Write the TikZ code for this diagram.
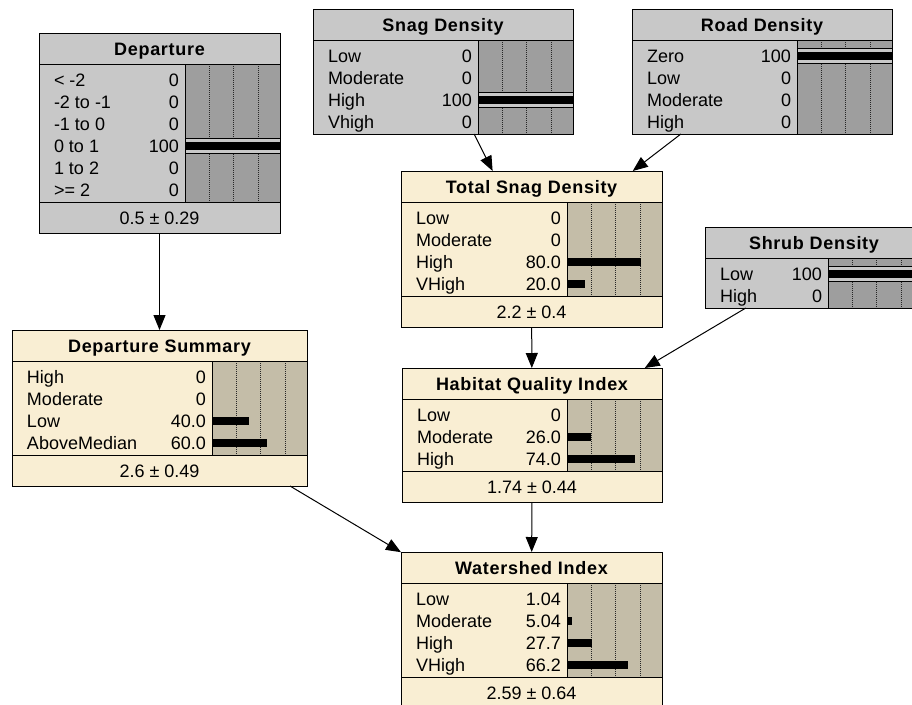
\documentclass[tikz,border=0pt]{standalone}
\usepackage{fontspec}
\setmainfont{Liberation Sans}
\newfontfamily\ttlfont[LetterSpace=4]{Liberation Sans}
\usetikzlibrary{arrows.meta}
\definecolor{gbg}{RGB}{200,200,200}
\definecolor{gbar}{RGB}{158,158,158}
\definecolor{bbg}{RGB}{249,238,211}
\definecolor{bbar}{RGB}{196,189,168}
\tikzset{
  txt/.style={inner sep=0pt, outer sep=0pt, font=\fontsize{18}{20}\selectfont},
  ttl/.style={inner sep=0pt, outer sep=0pt, font=\ttlfont\bfseries\fontsize{18}{20}\selectfont},
  dotline/.style={draw=black!85, line width=0.6pt, dash pattern=on 1pt off 1pt},
  sep/.style={draw=black, line width=0.8pt},
  edge/.style={draw=black, line width=1pt, -{Triangle[length=15pt,width=12pt]}}
}
% #1 name #2 x #3 y #4 width #5 nrows #6 kind (g/b) #7 title #8 footer #9 rows
\newcommand\netbox[9]{%
 \begin{scope}[shift={(#2,#3)}]
  \pgfmathsetmacro\bb{31+#5*22+6}
  \def\tmpfoot{#8}%
  \ifx\tmpfoot\empty \pgfmathsetmacro\bh{\bb}\else \pgfmathsetmacro\bh{\bb+31}\fi
  \pgfmathsetmacro\bx{#4-95}
  \node[draw=black, fill=#6bg, minimum width=#4pt, minimum height=\bh pt,
        anchor=north west, inner sep=0pt, outer sep=0pt, line width=0.8pt] (#1) at (0,0) {};
  \fill[#6bar] (\bx,31) rectangle (#4,\bb);
  \foreach \f in {24,48.5,73} {\draw[dotline] (\bx+\f,31) -- (\bx+\f,\bb);}
  \foreach \lab/\val/\pct/\ev [count=\i from 0] in {#9} {
    \pgfmathsetmacro\yc{31+16+22*\i}
    \pgfmathsetmacro\yb{31+22+22*\i}
    \ifnum\ev=1
      \filldraw[fill=#6bg, draw=black, line width=0.6pt] (\bx,\yc-7.5) rectangle (#4,\yc+7.5);
      \fill[black] (\bx+0.5,\yc-4.2) rectangle (#4-0.5,\yc+4.2);
    \else
      \fill[black] (\bx,\yc-4.2) rectangle (\bx+0.92*\pct,\yc+4.2);
    \fi
    \node[txt, anchor=base west] at (15,\yb) {\lab};
    \node[txt, anchor=base east] at (\bx-6,\yb) {\val};
  }
  \draw[sep] (0,31) -- (#4,31);
  \draw[sep] (\bx,31) -- (\bx,\bb);
  \node[ttl, anchor=base] at (#4/2,22.5) {#7};
  \ifx\tmpfoot\empty\else
    \draw[sep] (0,\bb) -- (#4,\bb);
    \node[txt, anchor=base] at (#4/2,\bb+22.5) {#8};
  \fi
  \draw[sep] (0,0) rectangle (#4,\bh);
 \end{scope}}
\begin{document}
\begin{tikzpicture}[x=1pt,y=-1pt]
\clip (0,0) rectangle (912,704);
\fill[white] (0,0) rectangle (912,704);
\netbox{dep}{39}{33}{241}{6}{g}{Departure}{0.5 ± 0.29}{< -2/0/0/0, -2 to -1/0/0/0, -1 to 0/0/0/0, 0 to 1/100/100/1, 1 to 2/0/0/0, >= 2/0/0/0}
\netbox{snag}{313}{9}{260}{4}{g}{Snag Density}{}{Low/0/0/0, Moderate/0/0/0, High/100/100/1, Vhigh/0/0/0}
\netbox{road}{632}{9}{260}{4}{g}{Road Density}{}{Zero/100/100/1, Low/0/0/0, Moderate/0/0/0, High/0/0/0}
\netbox{tsd}{401}{171}{261}{4}{b}{Total Snag Density}{2.2 ± 0.4}{Low/0/0/0, Moderate/0/0/0, High/80.0/80/0, VHigh/20.0/20/0}
\netbox{shrub}{705}{227}{218}{2}{g}{Shrub Density}{}{Low/100/100/1, High/0/0/0}
\netbox{dsum}{12}{330}{295}{4}{b}{Departure Summary}{2.6 ± 0.49}{High/0/0/0, Moderate/0/0/0, Low/40.0/40/0, AboveMedian/60.0/60/0}
\netbox{hab}{402}{368}{260}{3}{b}{Habitat Quality Index}{1.74 ± 0.44}{Low/0/0/0, Moderate/26.0/26/0, High/74.0/74/0}
\netbox{ws}{401}{552}{261}{4}{b}{Watershed Index}{2.59 ± 0.64}{Low/1.04/1.04/0, Moderate/5.04/5.04/0, High/27.7/27.7/0, VHigh/66.2/66.2/0}
\draw[edge] (dep) -- (dsum);
\draw[edge] (snag) -- (tsd);
\draw[edge] (road) -- (tsd);
\draw[edge] (tsd) -- (hab);
\draw[edge] (shrub) -- (hab);
\draw[edge] (dsum) -- (ws);
\draw[edge] (hab) -- (ws);
\end{tikzpicture}
\end{document}
